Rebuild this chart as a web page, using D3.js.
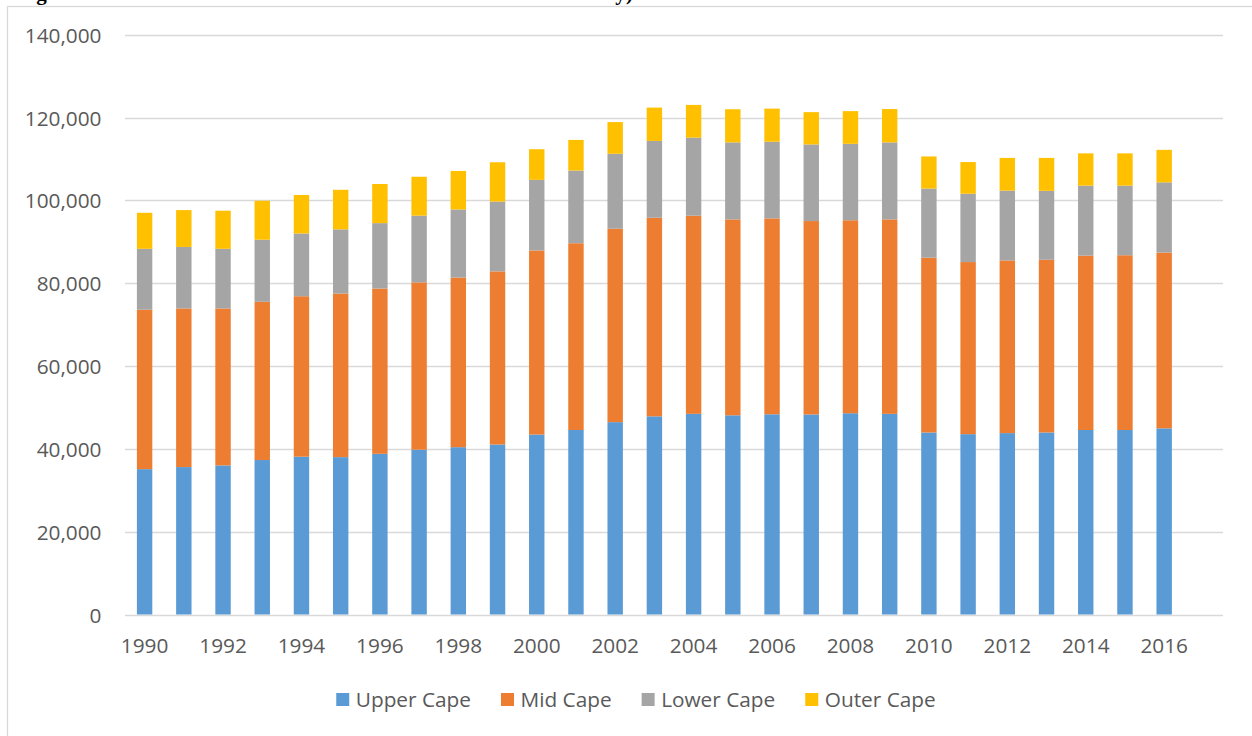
<!DOCTYPE html>
<html>
<head>
<meta charset="utf-8">
<script src="https://cdn.jsdelivr.net/npm/d3@7"></script>
<style>
  html, body { margin: 0; padding: 0; background: #fff; }
  svg { display: block; }
</style>
</head>
<body>
<svg id="chart" width="1252" height="736"></svg>
<script>
// Year-round population by Cape region, stacked from Upper to Outer Cape
const years = d3.range(1990, 2017);
const seriesNames = ["Upper Cape", "Mid Cape", "Lower Cape", "Outer Cape"];
const seriesColors = ["#5b9bd5", "#ed7d31", "#a5a5a5", "#ffc000"];

const upperCape = [35100, 35600, 36000, 37300, 38100, 38000, 38800, 39800, 40400, 41050,
                   43450, 44550, 46450, 47850, 48450, 48100, 48350, 48300, 48600, 48450,
                   43950, 43550, 43800, 43950, 44550, 44550, 44950];
const midCape   = [38500, 38300, 37900, 38200, 38750, 39500, 39900, 40400, 40950, 41800,
                   44450, 45100, 46700, 47950, 47850, 47300, 47300, 46700, 46600, 46950,
                   42200, 41550, 41700, 41700, 42100, 42200, 42450];
const lowerCape = [14700, 14850, 14400, 15000, 15150, 15500, 15800, 16100, 16450, 16850,
                   17050, 17550, 18100, 18550, 18850, 18600, 18500, 18500, 18450, 18600,
                   16700, 16500, 16850, 16650, 16900, 16800, 16950];
const outerCape = [8700, 8900, 9200, 9400, 9300, 9550, 9450, 9400, 9300, 9500,
                   7400, 7400, 7650, 8050, 7900, 8000, 8000, 7800, 7900, 8050,
                   7750, 7650, 7900, 7950, 7800, 7800, 7850];
const yTicks = [0, 20000, 40000, 60000, 80000, 100000, 120000, 140000];
const captionText = "Figure 4: Total Residents in Each of the Four Sub-Areas Annually)";

const seriesValues = [upperCape, midCape, lowerCape, outerCape];
const rows = years.map((yr, i) => {
  const r = { year: yr };
  seriesNames.forEach((s, k) => { r[s] = seriesValues[k][i]; });
  return r;
});

const svg = d3.select("#chart");
const textColor = "#595959";
const gridColor = "#d9d9d9";
const font = "'Open Sans', 'Liberation Sans', sans-serif";

svg.append("rect").attr("width", 1252).attr("height", 736).attr("fill", "#fff");

// caption line running above the chart frame (only its lowest strokes fall inside the page)
svg.append("text")
  .attr("x", 17).attr("y", 0)
  .attr("textLength", 616).attr("lengthAdjust", "spacing")
  .attr("font-family", "'Liberation Serif', 'Times New Roman', serif")
  .attr("font-weight", "bold").attr("font-size", 21)
  .attr("fill", "#000")
  .text(captionText);

// chart frame
svg.append("rect")
  .attr("x", 7.5).attr("y", 6.5).attr("width", 1400).attr("height", 900)
  .attr("fill", "none").attr("stroke", gridColor).attr("stroke-width", 1.3);

const plot = { left: 125, right: 1223, top: 34.7, bottom: 614.5 };

// one trailing empty slot on the category axis
const x = d3.scaleBand()
  .domain(years.map(String).concat([""]))
  .range([plot.left, plot.right])
  .paddingInner(0.607)
  .paddingOuter(0.3035);

const y = d3.scaleLinear().domain([0, 140000]).range([plot.bottom, plot.top]);

// gridlines
svg.append("g").selectAll("line").data(yTicks).join("line")
  .attr("x1", plot.left).attr("x2", plot.right)
  .attr("y1", d => Math.round(y(d)) + 0.5).attr("y2", d => Math.round(y(d)) + 0.5)
  .attr("stroke", gridColor).attr("stroke-width", 1.3);

// y axis labels
const yAxis = d3.axisLeft(y).tickValues(yTicks).tickFormat(d3.format(",")).tickSize(0).tickPadding(0);
const yg = svg.append("g").attr("transform", "translate(101.5,0)").call(yAxis);
yg.select(".domain").remove();
yg.selectAll("text")
  .attr("font-family", font).attr("font-size", 20.8).attr("fill", textColor)
  .attr("dy", "0.36em");

// stacked bars
const stack = d3.stack().keys(seriesNames);
const layers = stack(rows);
svg.append("g").selectAll("g").data(layers).join("g")
  .attr("fill", (d, i) => seriesColors[i])
  .selectAll("rect").data(d => d).join("rect")
  .attr("x", d => x(String(d.data.year)))
  .attr("width", x.bandwidth())
  .attr("y", d => y(d[1]))
  .attr("height", d => y(d[0]) - y(d[1]));

// x axis labels, every other year
const xAxis = d3.axisBottom(x)
  .tickValues(years.filter(yr => (yr - 1990) % 2 === 0).map(String))
  .tickSize(0).tickPadding(0);
const xg = svg.append("g").attr("transform", `translate(0,${plot.bottom})`).call(xAxis);
xg.select(".domain").remove();
xg.selectAll("text")
  .attr("font-family", font).attr("font-size", 20.8).attr("fill", textColor)
  .attr("y", 0).attr("dy", "1.87em");

// legend
const legend = svg.append("g");
const items = legend.selectAll("g").data(seriesNames).join("g");
items.append("rect").attr("width", 13).attr("height", 13).attr("y", -6.5)
  .attr("fill", (d, i) => seriesColors[i]);
items.append("text").attr("x", 19.5).attr("dy", "0.36em")
  .attr("font-family", font).attr("font-size", 20.8).attr("fill", textColor)
  .text(d => d);
let cursor = 0;
items.each(function () {
  const w = 19.5 + this.querySelector("text").getComputedTextLength();
  d3.select(this).attr("transform", `translate(${cursor},0)`);
  cursor += w + 30;
});
const total = cursor - 30;
legend.attr("transform", `translate(${636 - total / 2},699.5)`);
</script>
</body>
</html>
